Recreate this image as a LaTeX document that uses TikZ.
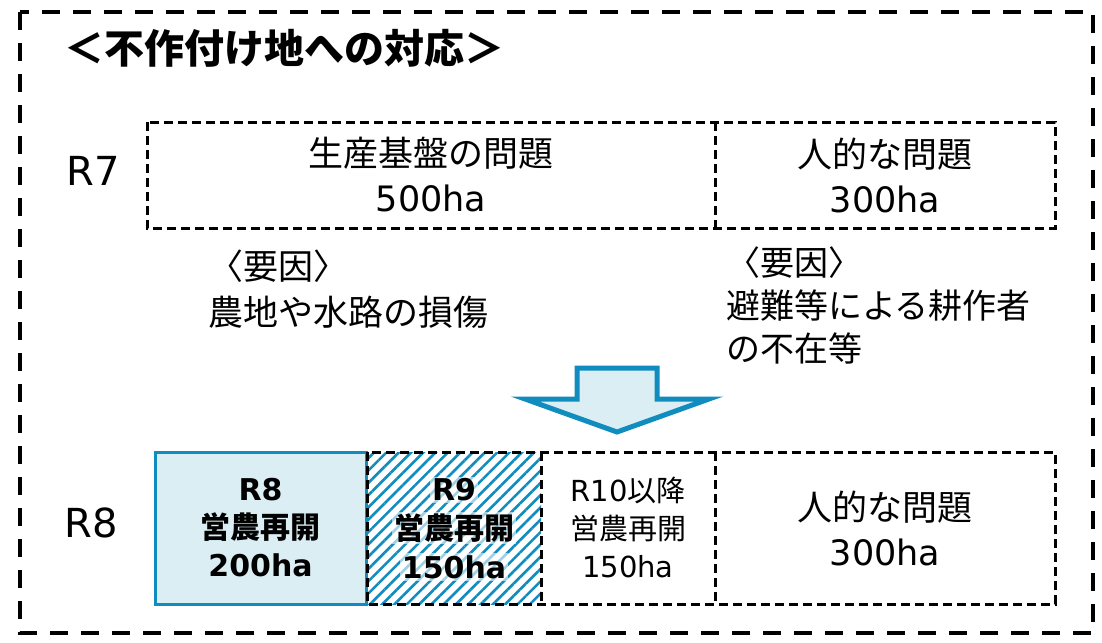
\documentclass[tikz,border=0pt]{standalone}
\usepackage{fontspec}
\setmainfont{DejaVu Sans}
\newfontfamily\jpfont{Noto Sans CJK JP}
\newcommand*{\jp}[1]{{\jpfont #1}}
\definecolor{lineblue}{RGB}{16,140,190}
\definecolor{paleblue}{RGB}{218,238,244}
\usetikzlibrary{patterns.meta}
\tikzstyle{base}=[inner sep=0pt, outer sep=0pt, x=1pt, y=-1pt]
\tikzstyle{frame}=[line width=4pt, dash pattern=on 18pt off 13pt]
\tikzstyle{dashline}=[line width=3pt, dash pattern=on 9pt off 5pt]
\tikzstyle{cellbox}=[align=center, font={\fontsize{35}{45}\selectfont}]
\tikzstyle{donebox}=[draw=lineblue, fill=paleblue, line width=3pt, align=center, font={\bfseries\fontsize{30}{38}\selectfont}]
\tikzstyle{hatchbox}=[pattern={Lines[angle=45,distance=8.7pt,line width=2.6pt]}, pattern color=lineblue]
\tikzstyle{halotext}=[fill=white, fill opacity=0.6, text opacity=1, inner sep=2pt, font={\bfseries\fontsize{30}{38}\selectfont}]
\tikzstyle{causetext}=[anchor=west, align=left, font={\jpfont\fontsize{35}{46}\selectfont}]
\tikzstyle{bigarrow}=[draw=lineblue, fill=paleblue, line width=5pt, line join=miter]

\begin{document}
\begin{tikzpicture}[base]
    \useasboundingbox (0,0) rectangle (1102,642);
    \draw [frame] (20,12) rectangle (1093,633);
    \node [anchor=west, font={\jpfont\bfseries\fontsize{40}{48}\selectfont}] (title) at (64,48) {＜不作付け地への対応＞};

    % R7
    \node [font={\fontsize{40}{48}\selectfont}] (r7) at (93,171) {R7};
    \node [cellbox, minimum width=568, minimum height=106] (base7) at (431,175) {\jp{生産基盤の問題}\\500ha};
    \node [cellbox, minimum width=340, minimum height=106] (human7) at (885,175) {\jp{人的な問題}\\300ha};
    \draw [dashline] (base7.north west) rectangle (human7.south east);
    \draw [dashline] (base7.north east) -- (base7.south east);
    \node [causetext] (cause1) at (208,289) {〈要因〉\\農地や水路の損傷};
    \node [causetext, font={\jpfont\fontsize{34}{43}\selectfont}] (cause2) at (726,305) {〈要因〉\\避難等による耕作者\\の不在等};

    \draw [bigarrow] (577,368) -- (657,368) -- (657,399) -- (709,399) -- (617,432) -- (525,399) -- (577,399) -- cycle;

    % R8
    \node [font={\fontsize{40}{48}\selectfont}] (r8) at (91,523) {R8};
    \node [donebox, minimum width=211, minimum height=152] (r8done) at (260.5,528) {R8\\\jp{営農再開}\\200ha};
    \node [hatchbox, minimum width=174, minimum height=152] (r9done) at (454,528) {};
    \node [halotext] (r9year) at (454,490) {R9};
    \node [halotext] (r9word) at (454,528) {\jp{営農再開}};
    \node [halotext] (r9area) at (454,567) {150ha};
    \node [cellbox, minimum width=174, minimum height=152, font={\fontsize{29}{38}\selectfont}] (r10done) at (628,528) {R10\jp{以降}\\\jp{営農再開}\\150ha};
    \node [cellbox, minimum width=340, minimum height=152] (human8) at (885,528) {\jp{人的な問題}\\300ha};
    \draw [dashline] (r9done.north west) rectangle (human8.south east);
    \draw [dashline] (r9done.north east) -- (r9done.south east);
    \draw [dashline] (r10done.north east) -- (r10done.south east);
\end{tikzpicture}
\end{document}
